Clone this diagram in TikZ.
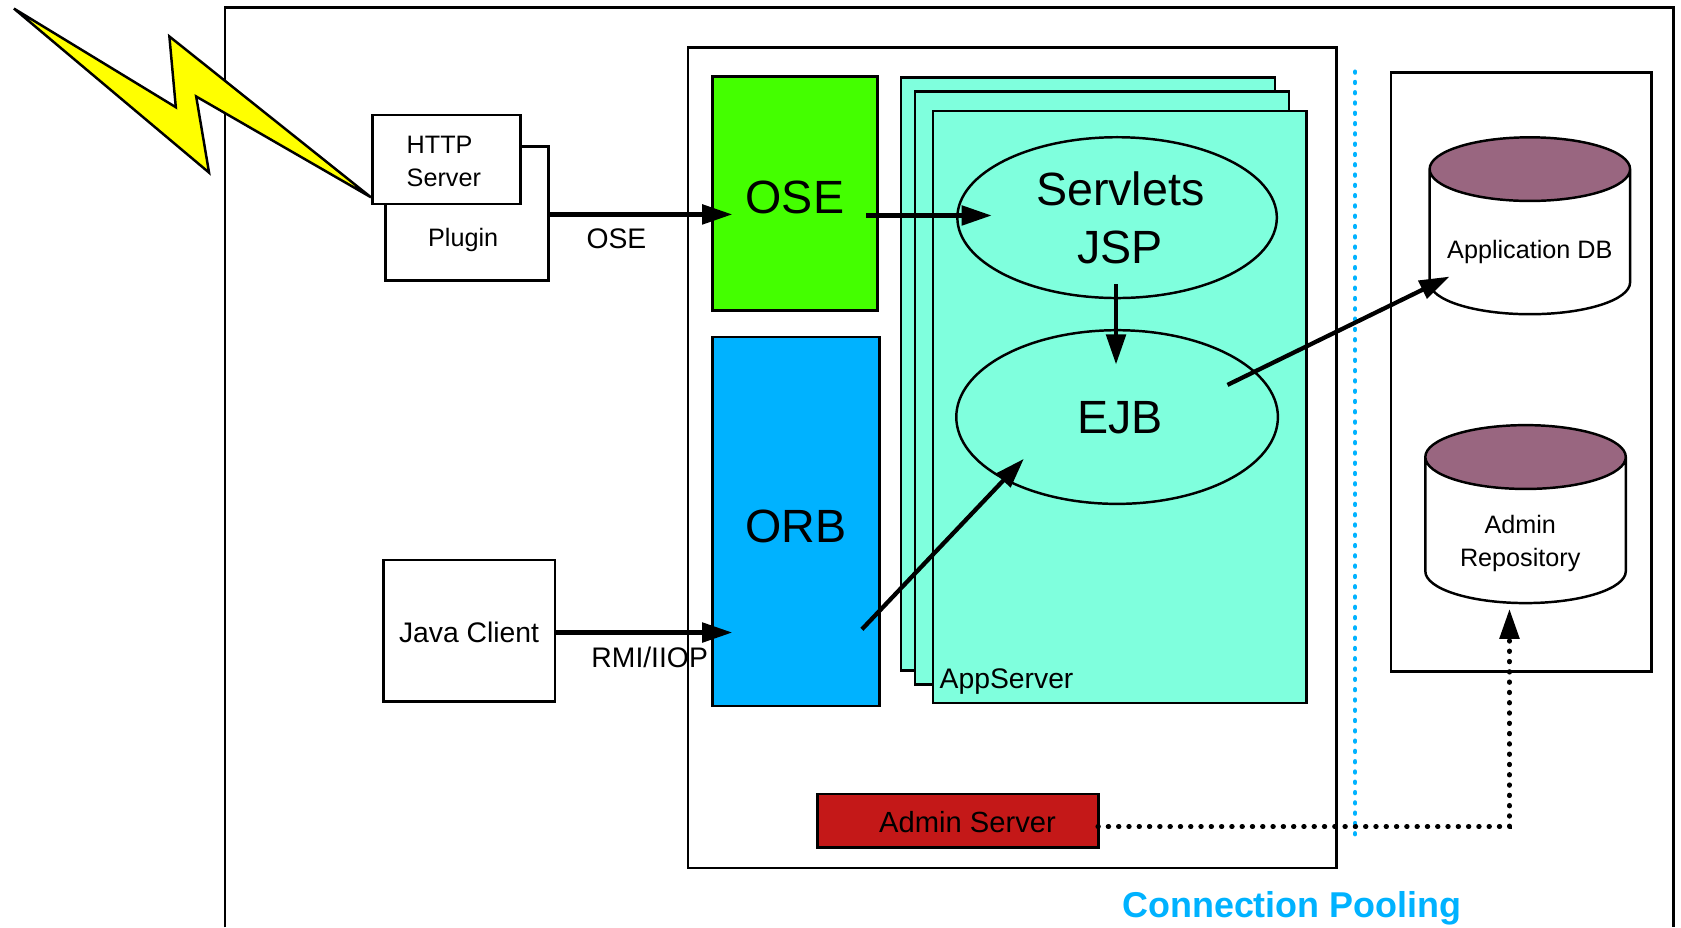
\documentclass[tikz,border=0pt]{standalone}
\usepackage{fontspec}
\setmainfont{Liberation Sans}
\usetikzlibrary{arrows.meta,shapes.geometric}

\definecolor{boltYellow}{HTML}{FFFF00}
\definecolor{oseGreen}{HTML}{44FF00}
\definecolor{orbBlue}{HTML}{00B2FF}
\definecolor{appAqua}{HTML}{7FFFDD}
\definecolor{adminRed}{HTML}{C41818}
\definecolor{dbTop}{HTML}{996680}

% shifts a text inside its node without changing the node
\newcommand{\nudge}[3]{\raisebox{-#2pt}[\height][\depth]{\kern#1pt\relax #3\kern-#1pt\relax}}

\tikzset{
  box/.style={draw, line width=2.3, rectangle, inner sep=0, outer sep=0, anchor=north west, xshift=0.5pt, yshift=-0.5pt},
  oval/.style={draw, line width=2.3, ellipse, inner sep=0, fill=appAqua},
  dbase/.style={draw, line width=2.3, cylinder, shape border rotate=90, aspect=0.385, inner sep=0,
    cylinder uses custom fill, cylinder end fill=dbTop, cylinder body fill=white},
  flow/.style={line width=4, -{Triangle[length=28,width=18]}},
  dots/.style={line width=4.4, line cap=round, dash pattern=on 0.6 off 9},
  small/.style={font=\fontsize{23.5}{31}\selectfont, align=center},
  mid/.style={font=\fontsize{26.4}{31}\selectfont, align=center},
  big/.style={font=\fontsize{43.5}{54}\selectfont, align=center},
}

\begin{document}
\begin{tikzpicture}[x=1pt,y=-1pt]
  \useasboundingbox (0,0) rectangle (1568,865);

  % Draw outer frame, open at the bottom
  \draw[line width=2.3] (210,865) -- (210,7) -- (1561,7) -- (1561,865);

  % lightning bolt
  \draw[line width=2.3, fill=boltYellow, line join=miter] (13,8) -- (164,100) -- (158,34) -- (346,184)
    -- (183,90) -- (195,161) -- cycle;

  % Draw web tier
  \node[box, small, fill=white, minimum width=152, minimum height=125] (plugin) at (359,136) {\nudge{-3.5}{25}{Plugin}};
  \node[box, small, align=left, fill=white, minimum width=138, minimum height=83] (http) at (347,107) {\nudge{-2.5}{1.5}{HTTP}\\\nudge{-2.5}{1.5}{Server}};
  \node[box, mid, minimum width=160, minimum height=132] (java) at (357,522) {\nudge{0}{1}{Java Client}};

  % Draw application server
  \node[box, minimum width=605, minimum height=765] (container) at (641,44) {};
  \node[box, big, fill=oseGreen, minimum width=154, minimum height=218] (ose) at (664,71) {\nudge{0}{4}{OSE}};
  \node[box, big, fill=orbBlue, minimum width=156, minimum height=344] (orb) at (664,314) {\nudge{0}{5}{ORB}};
  \node[box, fill=appAqua, minimum width=349, minimum height=553] (pageA) at (840,72) {};
  \node[box, fill=appAqua, minimum width=349, minimum height=553] (pageB) at (853,85) {};
  \node[box, fill=appAqua, minimum width=348, minimum height=552] (pageC) at (870,103) {};
  \node[oval, big, minimum width=298, minimum height=150] (servlets) at (1042,203) {\nudge{3}{0}{Servlets}\\\nudge{3}{0}{JSP}};
  \node[oval, big, minimum width=300, minimum height=162] (ejb) at (1042,389) {\nudge{3}{1}{EJB}};
  \node[box, mid, font=\fontsize{27.2}{31}\selectfont, fill=adminRed, minimum width=262, minimum height=50] (admin) at (762,740) {\nudge{9}{1.5}{Admin Server}};

  % Draw database side
  \node[box, minimum width=243, minimum height=559] (dbframe) at (1297,67) {};
  \node[dbase, small, minimum width=187, minimum height=165] (appdb) at (1427,226) {\nudge{0}{9}{Application DB}};
  \node[dbase, small, aspect=0.53, minimum width=187, minimum height=166] (repo) at (1423,495) {\nudge{-5}{12}{Admin}\\\nudge{-5}{12}{Repository}};

  % connection pooling divider
  \coordinate (poolTop) at (1264,67);
  \coordinate (poolEnd) at (1264,780);
  \draw[orbBlue, dots] (poolTop) -- (poolEnd);

  % arrow ends
  \coordinate (oseIn) at (683,200);
  \coordinate (oseOut) at (808,201);
  \coordinate (servIn) at (925,201);
  \coordinate (servOut) at (1041,265);
  \coordinate (ejbIn) at (1041,340);
  \coordinate (ejbOut) at (1145,359);
  \coordinate (dbIn) at (1352,258);
  \coordinate (orbIn) at (683,590);
  \coordinate (orbOut) at (804,587);
  \coordinate (ejbLow) at (955,428);
  \coordinate (adminOut) at (1024,771);
  \coordinate (repoIn) at (1408,568);

  % arrows
  \draw[flow] (plugin.east |- oseIn) -- (oseIn);
  \draw[flow] (oseOut) -- (servIn);
  \draw[flow] (servOut) -- (ejbIn);
  \draw[flow] (ejbOut) -- (dbIn);
  \draw[flow] (java.east |- orbIn) -- (orbIn);
  \draw[flow] (orbOut) -- (ejbLow);

  % dotted admin link
  \draw[dots, -{Triangle[length=28,width=18]}] (adminOut) -| (repoIn);

  % labels
  \node[mid] (oseLabel) at (575,223) {OSE};
  \node[mid] (rmiLabel) at (606,613) {RMI/IIOP};
  \node[mid, anchor=west] (appLabel) at (873,636) {AppServer};
  \node[font=\fontsize{33.5}{40}\selectfont\bfseries, text=orbBlue] (poolLabel) at (1205,847) {Connection Pooling};
\end{tikzpicture}
\end{document}
